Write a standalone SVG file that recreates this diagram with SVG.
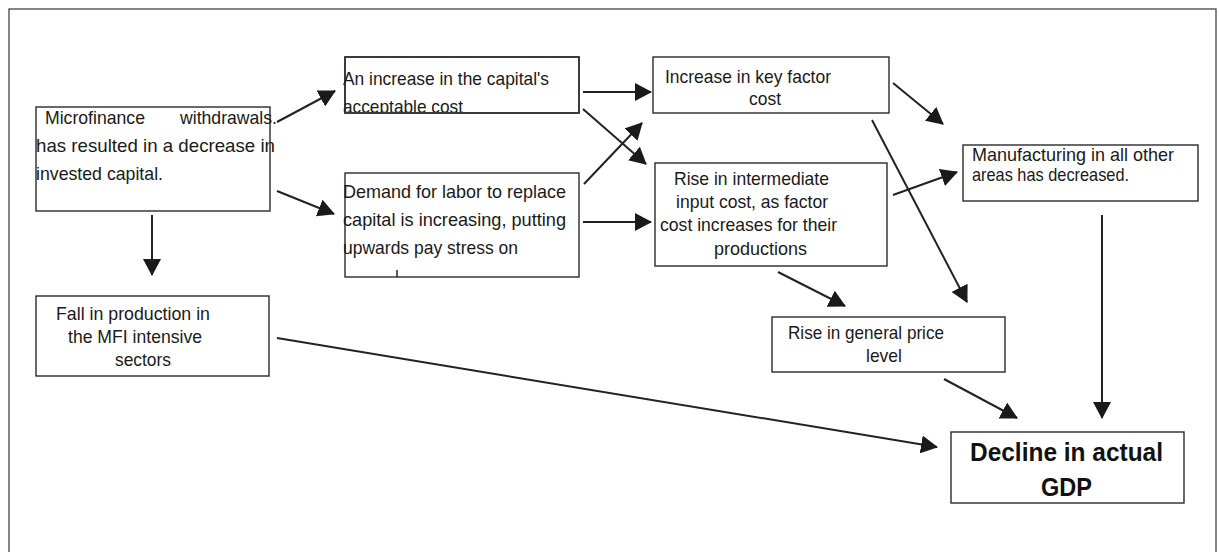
<svg xmlns="http://www.w3.org/2000/svg" width="1220" height="552" viewBox="0 0 1220 552">
  <style>
    .frame { fill: none; stroke: #444; stroke-width: 1.3; }
    .box { fill: #fff; stroke: #2a2a2a; stroke-width: 1.4; }
    .t { font-family: "Liberation Sans", Arial, sans-serif; font-size: 19px; fill: #1a1a1a; }
    .tb { font-family: "Liberation Sans", Arial, sans-serif; font-size: 26px; font-weight: bold; fill: #111; }
    .conn line { stroke: #222; stroke-width: 2; marker-end: url(#ah); }
  </style>
  <defs>
    <marker id="ah" markerUnits="userSpaceOnUse" markerWidth="17" markerHeight="18" refX="16" refY="9" orient="auto">
      <path d="M0,0 L17,9 L0,18 z" fill="#1a1a1a"/>
    </marker>
    <clipPath id="clipCost">
      <rect x="340" y="57" width="240" height="55"/>
    </clipPath>
  </defs>

  <rect width="1220" height="552" fill="#fff"/>
  <rect class="frame" x="9" y="9" width="1207" height="560"/>

  <!-- Nodes -->
  <g id="node-withdrawals">
    <rect class="box" x="36" y="107" width="234" height="104"/>
    <text class="t"><tspan x="45" y="124" textLength="100" lengthAdjust="spacingAndGlyphs">Microfinance</tspan><tspan x="180" y="124" textLength="97" lengthAdjust="spacingAndGlyphs">withdrawals.</tspan></text>
    <text class="t" x="36" y="152" textLength="239" lengthAdjust="spacingAndGlyphs">has resulted in a decrease in</text>
    <text class="t" x="36" y="180" textLength="127" lengthAdjust="spacingAndGlyphs">invested capital.</text>
  </g>

  <g id="node-capital-cost">
    <rect class="box" x="345" y="57" width="234" height="56"/>
    <text class="t" x="343" y="85" textLength="206" lengthAdjust="spacingAndGlyphs">An increase in the capital's</text>
    <text class="t" x="343" y="113" textLength="120" lengthAdjust="spacingAndGlyphs" clip-path="url(#clipCost)">acceptable cost</text>
    <rect x="345" y="57" width="234" height="56" fill="none" stroke="#2a2a2a" stroke-width="1.4"/>
  </g>

  <g id="node-labor-demand">
    <rect class="box" x="345" y="173" width="234" height="104"/>
    <text class="t" x="343" y="198" textLength="223" lengthAdjust="spacingAndGlyphs">Demand for labor to replace</text>
    <text class="t" x="343" y="226" textLength="223" lengthAdjust="spacingAndGlyphs">capital  is increasing, putting</text>
    <text class="t" x="343" y="254" textLength="175" lengthAdjust="spacingAndGlyphs">upwards pay stress on</text>
    <line x1="397" y1="270" x2="397" y2="277" stroke="#222" stroke-width="1.5"/>
  </g>

  <g id="node-factor-cost">
    <rect class="box" x="653" y="57" width="236" height="56"/>
    <text class="t" x="665" y="83" textLength="166" lengthAdjust="spacingAndGlyphs">Increase in key factor</text>
    <text class="t" x="749" y="105" textLength="32" lengthAdjust="spacingAndGlyphs">cost</text>
  </g>

  <g id="node-intermediate-cost">
    <rect class="box" x="655" y="163" width="232" height="103"/>
    <text class="t" x="674" y="185" textLength="155" lengthAdjust="spacingAndGlyphs">Rise in intermediate</text>
    <text class="t" x="676" y="208" textLength="152" lengthAdjust="spacingAndGlyphs">input cost, as factor</text>
    <text class="t" x="660" y="231" textLength="177" lengthAdjust="spacingAndGlyphs">cost increases for their</text>
    <text class="t" x="714" y="255" textLength="93" lengthAdjust="spacingAndGlyphs">productions</text>
  </g>

  <g id="node-manufacturing">
    <rect class="box" x="963" y="145" width="235" height="56"/>
    <text class="t" x="972" y="161" textLength="202" lengthAdjust="spacingAndGlyphs">Manufacturing in all other</text>
    <text class="t" x="972" y="181" textLength="157" lengthAdjust="spacingAndGlyphs">areas has decreased.</text>
  </g>

  <g id="node-mfi-sectors">
    <rect class="box" x="36" y="296" width="233" height="80"/>
    <text class="t" x="56" y="320" textLength="154" lengthAdjust="spacingAndGlyphs">Fall in production in</text>
    <text class="t" x="68" y="343" textLength="134" lengthAdjust="spacingAndGlyphs">the MFI intensive</text>
    <text class="t" x="115" y="366" textLength="56" lengthAdjust="spacingAndGlyphs">sectors</text>
  </g>

  <g id="node-price-level">
    <rect class="box" x="772" y="317" width="233" height="55"/>
    <text class="t" x="788" y="339" textLength="156" lengthAdjust="spacingAndGlyphs">Rise in general price</text>
    <text class="t" x="866" y="362" textLength="36" lengthAdjust="spacingAndGlyphs">level</text>
  </g>

  <g id="node-gdp">
    <rect class="box" x="951" y="432" width="233" height="71"/>
    <text class="tb" x="970" y="461" textLength="193" lengthAdjust="spacingAndGlyphs">Decline in actual</text>
    <text class="tb" x="1041" y="496" textLength="51" lengthAdjust="spacingAndGlyphs">GDP</text>
  </g>

  <!-- Connectors -->
  <g id="connectors" class="conn">
    <line x1="277" y1="122" x2="335" y2="91"/>
    <line x1="277" y1="191" x2="334" y2="214"/>
    <line x1="152" y1="215" x2="152" y2="275"/>
    <line x1="583" y1="92" x2="651" y2="92"/>
    <line x1="583" y1="109" x2="646" y2="164"/>
    <line x1="584" y1="184" x2="642" y2="123"/>
    <line x1="583" y1="222" x2="651" y2="222"/>
    <line x1="893" y1="83" x2="943" y2="124"/>
    <line x1="872" y1="120" x2="967" y2="302"/>
    <line x1="893" y1="195" x2="957" y2="172"/>
    <line x1="778" y1="272" x2="845" y2="306"/>
    <line x1="1102" y1="215" x2="1102" y2="418"/>
    <line x1="944" y1="379" x2="1017" y2="418"/>
    <line x1="277" y1="338" x2="937" y2="447"/>
  </g>
</svg>
